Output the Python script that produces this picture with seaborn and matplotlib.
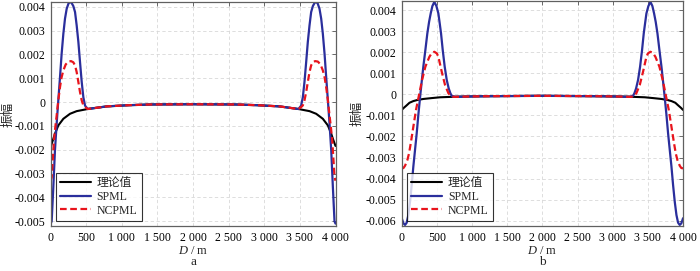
import matplotlib
matplotlib.use("Agg")
import matplotlib.pyplot as plt
import seaborn as sns
import pandas as pd

# ---------------- data: panel a ----------------
xa_theory = [0, 37, 60, 107, 178, 272, 365, 520, 788, 1100, 1400, 2000,
             2600, 2900, 3212, 3480, 3635, 3728, 3822, 3893, 3940, 3963, 4000]
ya_theory = [-0.00188, -0.00154, -0.00133, -0.00098, -0.0007, -0.00049, -0.00038, -0.00029,
             -0.00018, -0.00013, -0.0001, -0.00009, -0.0001, -0.00013, -0.00018,
             -0.00029, -0.00038, -0.00049, -0.0007, -0.00098, -0.00133, -0.00154, -0.00184]

xa_spml = [0, 14, 37, 60, 84, 107, 131, 154, 178, 201, 225, 253, 286, 318, 342, 365,
           389, 412, 436, 459, 483, 520,
           788, 1100, 1400, 2000, 2600, 2900, 3212,
           3480, 3517, 3541, 3564, 3588, 3611, 3635, 3658, 3682, 3714, 3747, 3775,
           3799, 3822, 3846, 3869, 3893, 3916, 3940, 3963, 3986, 4000]
ya_spml = [-0.0051, -0.0050, -0.00357, -0.00203, -0.00091, 0.00007, 0.00105, 0.00203,
           0.00287, 0.0035, 0.00392, 0.00416, 0.0042, 0.00403, 0.00378, 0.00322,
           0.00252, 0.00168, 0.00084, 0.0002, -0.00015, -0.00029,
           -0.00018, -0.00013, -0.0001, -0.00009, -0.0001, -0.00013, -0.00018,
           -0.00029, -0.00015, 0.0002, 0.00084, 0.00168, 0.00252, 0.00322, 0.00378,
           0.00403, 0.0042, 0.00416, 0.00392, 0.0035, 0.00287, 0.00203, 0.00105,
           0.00007, -0.00091, -0.00203, -0.00357, -0.0050, -0.0051]

xa_ncpml = [0, 14, 28, 46, 65, 84, 107, 131, 154, 178, 211, 248, 286, 318, 342, 365,
            389, 412, 436, 459, 483, 520,
            788, 1100, 1400, 2000, 2600, 2900, 3212,
            3480, 3517, 3541, 3564, 3588, 3611, 3635, 3658, 3682, 3714, 3752, 3789,
            3822, 3846, 3869, 3893, 3916, 3935, 3954, 3972, 3986, 4000]
ya_ncpml = [-0.0033, -0.00315, -0.00245, -0.00161, -0.00105, -0.00056, 0.00007, 0.00063,
            0.00105, 0.00133, 0.00158, 0.0017, 0.00172, 0.00167, 0.00154, 0.00126,
            0.00084, 0.00042, 0.00007, -0.00014, -0.00021, -0.00029,
            -0.00018, -0.00013, -0.0001, -0.00009, -0.0001, -0.00013, -0.00018,
            -0.00029, -0.00021, -0.00014, 0.00007, 0.00042, 0.00084, 0.00126, 0.00154,
            0.00167, 0.00172, 0.0017, 0.00158, 0.00133, 0.00105, 0.00063, 0.00007,
            -0.00056, -0.00105, -0.00161, -0.00245, -0.00315, -0.0033]

# ---------------- data: panel b ----------------
xb_theory = [0, 30, 71, 110, 165, 220, 307, 420, 545, 782, 1200, 2000,
             2800, 3218, 3455, 3580, 3693, 3780, 3835, 3890, 3929, 3970, 4000]
yb_theory = [-0.00074, -0.00064, -0.00052, -0.0004, -0.00032, -0.00027, -0.00022, -0.00018,
             -0.00014, -0.00011, -0.00009, -0.00007, -0.00009, -0.00011, -0.00014,
             -0.00018, -0.00022, -0.00027, -0.00032, -0.0004, -0.00052, -0.00064, -0.00074]

xb_spml = [0, 24, 47, 71, 94, 118, 142, 165, 189, 213, 236, 265, 289, 307, 336, 364,
           389, 412, 436, 464, 493, 521, 540, 559, 583, 611, 640, 668, 692, 711, 758,
           1000, 1200, 2000, 2800, 3000,
           3242, 3289, 3308, 3332, 3360, 3389, 3417, 3441, 3460, 3479, 3507, 3536,
           3564, 3588, 3611, 3636, 3664, 3693, 3711, 3735, 3764, 3787, 3811, 3835,
           3858, 3882, 3906, 3929, 3953, 3976, 4000]
yb_spml = [-0.00588, -0.00612, -0.0062, -0.00609, -0.00573, -0.0051, -0.0043, -0.00343,
           -0.00264, -0.00185, -0.00098, 0.0, 0.00076, 0.00131, 0.0021, 0.00289,
           0.00344, 0.00384, 0.00419, 0.00439, 0.00419, 0.00384, 0.00337, 0.00289,
           0.0021, 0.00131, 0.00068, 0.00028, 0.00005, -0.00007, -0.00012,
           -0.0001, -0.00009, -0.00007, -0.00009, -0.0001,
           -0.00012, -0.00007, 0.00005, 0.00028, 0.00068, 0.00131, 0.0021, 0.00289,
           0.00337, 0.00384, 0.00419, 0.00439, 0.00419, 0.00384, 0.00344, 0.00289,
           0.0021, 0.00131, 0.00076, 0.0, -0.00098, -0.00185, -0.00264, -0.00343,
           -0.0043, -0.0051, -0.00573, -0.00609, -0.0062, -0.00612, -0.00588]

xb_ncpml = [0, 24, 47, 80, 104, 128, 165, 203, 241, 289, 336, 393, 430, 464, 500,
            521, 569, 616, 664, 711, 758,
            1000, 1200, 2000, 2800, 3000,
            3242, 3289, 3336, 3384, 3431, 3479, 3500, 3536, 3570, 3607, 3664, 3711,
            3759, 3797, 3835, 3872, 3896, 3920, 3953, 3976, 4000]
yb_ncpml = [-0.00351, -0.0035, -0.00339, -0.00312, -0.0028, -0.00233, -0.00154, -0.00074,
            -0.00011, 0.00068, 0.00131, 0.00178, 0.00197, 0.00202, 0.00194, 0.00178,
            0.00107, 0.00044, 0.00005, -0.00011, -0.00012,
            -0.0001, -0.00009, -0.00007, -0.00009, -0.0001,
            -0.00012, -0.00011, 0.00005, 0.00044, 0.00107, 0.00178, 0.00194, 0.00202,
            0.00197, 0.00178, 0.00131, 0.00068, -0.00011, -0.00074, -0.00154, -0.00233,
            -0.0028, -0.00312, -0.00339, -0.0035, -0.00351]

# ---------------- labels ----------------
series_names = ["理论值", "SPML", "NCPML"]
x_ticks = [0, 500, 1000, 1500, 2000, 2500, 3000, 3500, 4000]
x_ticklabels = ["0", "500", "1 000", "1 500", "2 000", "2 500", "3 000", "3 500", "4 000"]
ya_ticks = [0.004, 0.003, 0.002, 0.001, 0, -0.001, -0.002, -0.003, -0.004, -0.005]
ya_ticklabels = ["0.004", "0.003", "0.002", "0.001", "0", "-0.001", "-0.002", "-0.003",
                 "-0.004", "-0.005"]
yb_ticks = [0.004, 0.003, 0.002, 0.001, 0, -0.001, -0.002, -0.003, -0.004, -0.005, -0.006]
yb_ticklabels = ["0.004", "0.003", "0.002", "0.001", "0", "-0.001", "-0.002", "-0.003",
                 "-0.004", "-0.005", "-0.006"]
y_label = "振幅"
x_label = "$D$ / m"
panel_labels = ["a", "b"]

# ---------------- style ----------------
sns.set_theme(style="white")
plt.rcParams["font.family"] = ["Liberation Serif", "Noto Sans CJK SC"]
plt.rcParams["mathtext.fontset"] = "custom"
plt.rcParams["mathtext.it"] = "Liberation Serif:italic"
plt.rcParams["mathtext.rm"] = "Liberation Serif"

colors = ["#000000", "#2a2e9c", "#e8141c"]

fig = plt.figure(figsize=(7.0, 2.71), dpi=100)
ax_a = fig.add_axes([0.0724, 0.166, 0.4069, 0.8266])
ax_b = fig.add_axes([0.5739, 0.166, 0.4019, 0.8303])


def draw(ax, xs, ys, yticks, yticklabels, ylim, plabel, ylab_x):
    for i, (x, y) in enumerate(zip(xs, ys)):
        df = pd.DataFrame({"D": x, "A": y})
        sns.lineplot(data=df, x="D", y="A", ax=ax, sort=False, estimator=None,
                     color=colors[i], lw=1.6, label=series_names[i])
    lines = ax.get_lines()
    lines[0].set_linewidth(1.5)
    lines[1].set_linewidth(1.6)
    lines[2].set_linewidth(1.6)
    lines[2].set_dashes((3.0, 1.6))
    ax.set_xlim(0, 4000)
    ax.set_ylim(*ylim)
    ax.set_xticks(x_ticks)
    ax.set_xticklabels(x_ticklabels)
    ax.set_yticks(yticks)
    ax.set_yticklabels(yticklabels)
    ax.tick_params(direction="in", length=3, width=0.6, top=True, right=True,
                   labelsize=8.5, pad=4, colors="#555555", labelcolor="black")
    ax.grid(True, color="#d8d8d8", lw=0.6, dashes=(4, 3))
    for s in ax.spines.values():
        s.set_color("#606060")
        s.set_linewidth(0.9)
    ax.set_xlabel(x_label, fontsize=9, labelpad=1)
    ax.set_ylabel(y_label, fontsize=9, family=["Noto Sans CJK SC"])
    ax.yaxis.set_label_coords(ylab_x, 0.5)
    ax.text(0.5, -0.16, plabel, transform=ax.transAxes, ha="center", va="center",
            fontsize=9.5)
    leg = ax.legend(loc="lower left", fontsize=8.5, handlelength=2.6, frameon=True,
                    fancybox=False, borderpad=0.35, labelspacing=0.15,
                    handletextpad=0.5, borderaxespad=0.45)
    leg.get_frame().set_edgecolor("black")
    leg.get_frame().set_linewidth(0.8)


draw(ax_a, [xa_theory, xa_spml, xa_ncpml], [ya_theory, ya_spml, ya_ncpml],
     ya_ticks, ya_ticklabels, (-0.0052, 0.0042), panel_labels[0], -0.128)
draw(ax_b, [xb_theory, xb_spml, xb_ncpml], [yb_theory, yb_spml, yb_ncpml],
     yb_ticks, yb_ticklabels, (-0.00625, 0.00443), panel_labels[1], -0.135)

fig.savefig("out.png", dpi=100)
